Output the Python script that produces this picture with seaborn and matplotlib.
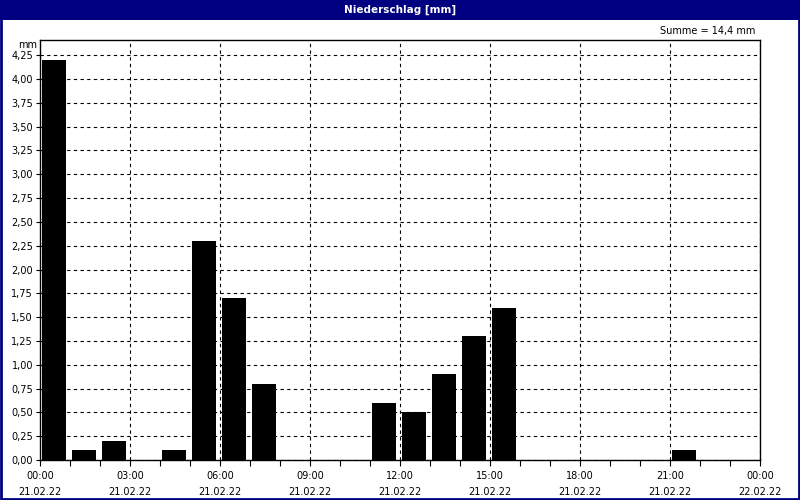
"""Hourly precipitation bar chart (Niederschlag) for 21.02.22."""
import matplotlib

matplotlib.use("Agg")

import matplotlib.pyplot as plt  # noqa: E402
import pandas as pd  # noqa: E402
import seaborn as sns  # noqa: E402
from matplotlib.patches import Rectangle  # noqa: E402
from matplotlib.ticker import FuncFormatter, MultipleLocator  # noqa: E402

# hourly precipitation, 00:00 .. 23:00 on 21.02.22
HOURS = list(range(24))
PRECIP_MM = [4.2, 0.1, 0.2, 0.0, 0.1, 2.3, 1.7, 0.8, 0.0, 0.0, 0.0, 0.6,
             0.5, 0.9, 1.3, 1.6, 0.0, 0.0, 0.0, 0.0, 0.0, 0.1, 0.0, 0.0]
TICK_HOURS = [0, 3, 6, 9, 12, 15, 18, 21, 24]
TICK_LABELS = ["00:00\n21.02.22", "03:00\n21.02.22", "06:00\n21.02.22",
               "09:00\n21.02.22", "12:00\n21.02.22", "15:00\n21.02.22",
               "18:00\n21.02.22", "21:00\n21.02.22", "00:00\n22.02.22"]
TITLE = "Niederschlag [mm]"
NAVY = "#000080"

sns.set_theme(style="white")
plt.rcParams["font.family"] = ["DejaVu Sans"]

df = pd.DataFrame({"hour": HOURS, "mm": PRECIP_MM})
# bars sit inside their hour slot, slightly right of the hour mark
df["center"] = df["hour"] + 2 / 30 + 0.4

fig = plt.figure(figsize=(8, 5), dpi=100)
fig.patch.set_facecolor("white")
ax = fig.add_axes([0.05, 0.08, 0.90, 0.84])

sns.barplot(data=df, x="center", y="mm", native_scale=True, width=0.8,
            color="black", saturation=1, edgecolor="black", linewidth=0, ax=ax, zorder=3)

ax.set_xlim(0, 24)
ax.set_ylim(0, 4.41)
ax.set_xlabel("")
ax.set_ylabel("")

ax.yaxis.set_major_locator(MultipleLocator(0.25))
ax.yaxis.set_major_formatter(FuncFormatter(lambda v, _: f"{v:.2f}".replace(".", ",")))
ax.set_xticks(TICK_HOURS)
ax.set_xticklabels(TICK_LABELS)
for lbl in ax.get_xticklabels():
    lbl.set_linespacing(1.75)
ax.xaxis.set_minor_locator(MultipleLocator(1))

ax.tick_params(axis="both", which="both", direction="out", colors="black",
               labelsize=7, length=4, width=0.8, bottom=True, left=True)
ax.tick_params(axis="x", which="major", pad=4)
ax.tick_params(axis="y", which="major", pad=2, length=3)

ax.grid(True, which="major", color="black", linestyle=(0, (3, 3)), linewidth=0.8)
ax.set_axisbelow(True)
for spine in ax.spines.values():
    spine.set_color("black")
    spine.set_linewidth(1)
    spine.set_visible(True)

# title bar and frame
fig.patches.append(Rectangle((0, 1 - 20 / 500), 1, 20 / 500, transform=fig.transFigure,
                             facecolor=NAVY, edgecolor="none", zorder=0))
fig.patches.append(Rectangle((0.001, 0.002), 0.998, 0.996, transform=fig.transFigure,
                             facecolor="none", edgecolor=NAVY, linewidth=2, zorder=5))
fig.text(0.5, 1 - 10 / 500, TITLE, color="white", fontsize=7.5, fontweight="bold",
         ha="center", va="center")
fig.text(755 / 800, 1 - 31 / 500, f"Summe = {sum(PRECIP_MM):.1f} mm".replace(".", ","),
         fontsize=7, ha="right", va="center", color="black")
fig.text(37 / 800, 1 - 45 / 500, "mm", fontsize=7, ha="right", va="center", color="black")

fig.savefig("out.png", dpi=100)
